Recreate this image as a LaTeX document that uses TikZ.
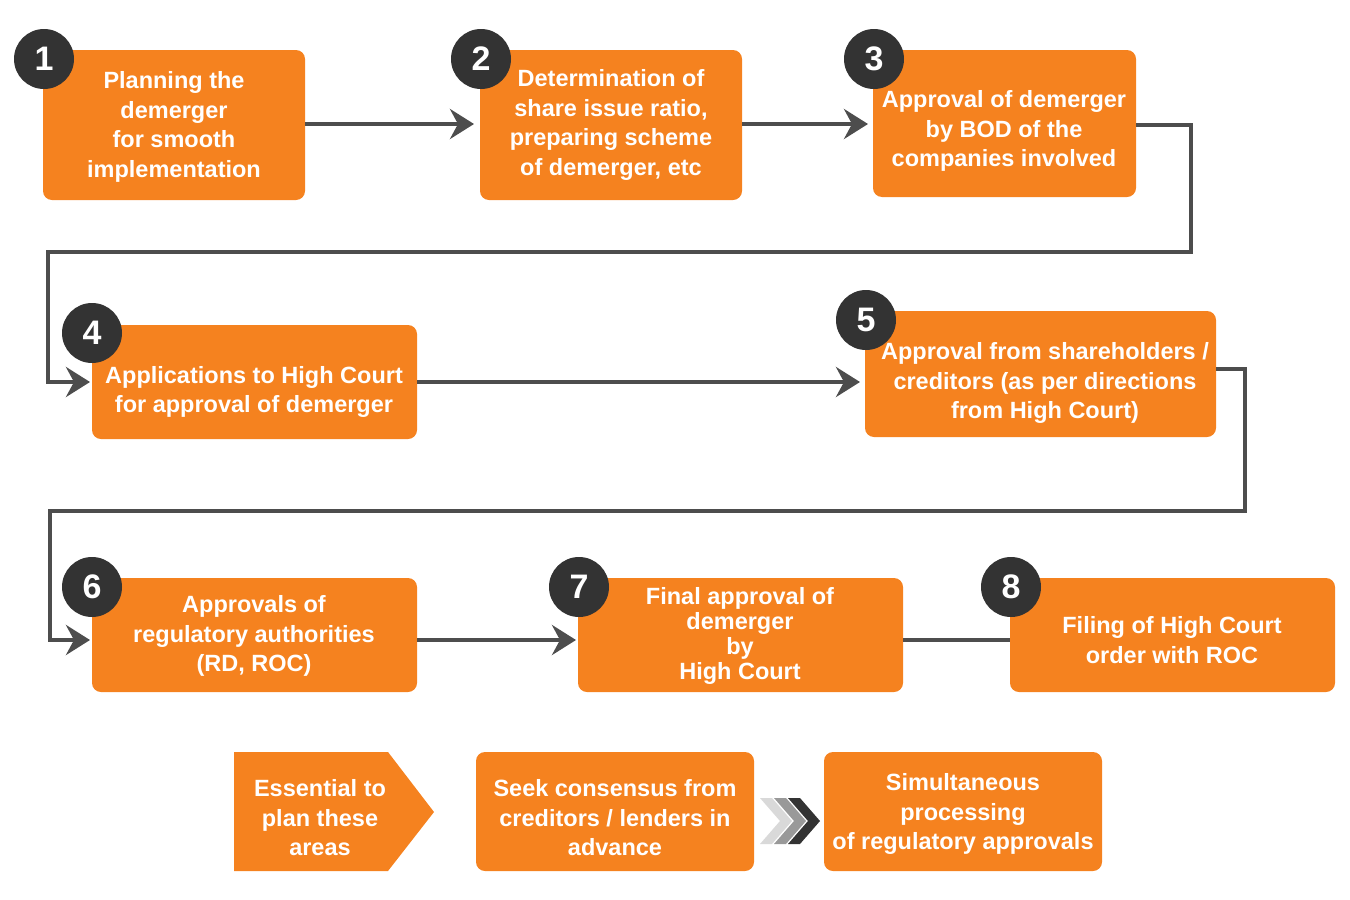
\documentclass[tikz,border=0pt]{standalone}
\usepackage{fontspec}
\setmainfont{Liberation Sans}
\usetikzlibrary{arrows.meta}
\definecolor{org}{HTML}{F5821F}
\definecolor{lnk}{HTML}{4D4D4D}
\definecolor{dot}{HTML}{333333}
\begin{document}
\begin{tikzpicture}[x=1pt,y=-1pt,
  box/.style={fill=org,rounded corners=9pt,text=white,align=center,
    font=\fontsize{23.5}{29.5}\selectfont\bfseries,inner sep=0pt},
  num/.style={circle,fill=dot,text=white,minimum size=60pt,inner sep=0pt,
    font=\fontsize{34}{34}\selectfont\bfseries},
  link/.style={draw=lnk,line width=4pt,-{Stealth[length=24pt,width=30pt,inset=8pt]}},
  plain/.style={draw=lnk,line width=4pt}]
\useasboundingbox (0,0) rectangle (1350,900);
% boxes
\path[box] (43,50) rectangle (305,200);
\node[box] (b1) at (174,127) {Planning the\\demerger\\for smooth\\implementation};
\path[box] (480,50) rectangle (742,200);
\node[box] (b2) at (611,125) {Determination of\\share issue ratio,\\preparing scheme\\of demerger, etc};
\path[box] (873,50) rectangle (1136,197);
\node[box] (b3) at (1004,131) {Approval of demerger\\by BOD of the\\companies involved};
\path[box] (92,325) rectangle (417,439);
\node[box] (b4) at (254,392) {Applications to High Court\\for approval of demerger};
\path[box] (865,311) rectangle (1216,437);
\node[box] (b5) at (1045,383) {Approval from shareholders /\\creditors (as per directions\\from High Court)};
\path[box] (92,578) rectangle (417,692);
\node[box] (b6) at (254,636) {Approvals of\\regulatory authorities\\(RD, ROC)};
\path[box] (578,578) rectangle (903,692);
\node[box,font=\fontsize{23.5}{25}\selectfont\bfseries] (b7) at (740,636) {Final approval of\\demerger\\by\\High Court};
\path[box] (1010,578) rectangle (1335,692);
\node[box] (b8) at (1172,640) {Filing of High Court\\order with ROC};
% connectors
\coordinate (t2) at (474,124);
\coordinate (t3) at (868,124);
\coordinate (t4) at (90,382);
\coordinate (t5) at (860,382);
\coordinate (t6) at (90,640);
\coordinate (t7) at (576,640);
\draw[link] (305,124) -- (t2);
\draw[link] (742,124) -- (t3);
\draw[link] (1136,125) -- (1191,125) -- (1191,252) -- (48,252) -- (48,382) -- (t4);
\draw[link] (417,382) -- (t5);
\draw[link] (1216,369) -- (1245,369) -- (1245,511) -- (50,511) -- (50,640) -- (t6);
\draw[link] (417,640) -- (t7);
\draw[plain] (903,640) -- (1010,640);
% numbers
\node[num] (n1) at (44,59) {1};
\node[num] (n2) at (481,59) {2};
\node[num] (n3) at (874,59) {3};
\node[num] (n4) at (92,333) {4};
\node[num] (n5) at (866,320) {5};
\node[num] (n6) at (92,587) {6};
\node[num] (n7) at (579,587) {7};
\node[num] (n8) at (1011,587) {8};
% bottom row
\fill[org] (234,752) -- (388,752) -- (434,812) -- (388,871) -- (234,871) -- cycle;
\node[box] (e1) at (320,818) {Essential to\\plan these\\areas};
\path[box] (476,752) rectangle (754,871);
\node[box] (e2) at (615,818) {Seek consensus from\\creditors / lenders in\\advance};
\path[box] (824,752) rectangle (1102,871);
\node[box] (e3) at (963,814) {Simultaneous\\processing\\of regulatory approvals};
\foreach \dx/\c in {0/black!15,14/black!40,28/black!80}
  \fill[\c] (760+\dx,798) -- (772+\dx,798) -- (792+\dx,821) -- (772+\dx,844) -- (760+\dx,844) -- (780+\dx,821) -- cycle;
\end{tikzpicture}
\end{document}
